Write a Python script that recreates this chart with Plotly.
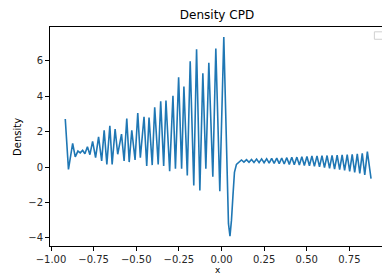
import plotly.graph_objects as go

# ---- data ----
x_vals = [
    -0.9164, -0.8977, -0.8731, -0.8579, -0.8421, -0.8287, -0.8146, -0.8012,
    -0.7865, -0.7719, -0.7561, -0.7386, -0.7211, -0.7029, -0.6883, -0.6725,
    -0.6550, -0.6415, -0.6240, -0.6088, -0.5865, -0.5713, -0.5556, -0.5415,
    -0.5263, -0.5070, -0.4912, -0.4760, -0.4544, -0.4386, -0.4251, -0.4064,
    -0.3918, -0.3713, -0.3567, -0.3392, -0.3257, -0.3041, -0.2848, -0.2702,
    -0.2515, -0.2339, -0.2205, -0.2006, -0.1836, -0.1626, -0.1462, -0.1269,
    -0.1094, -0.0918, -0.0743, -0.0509, -0.0333, -0.0099, 0.0135, 0.0409,
    0.0497, 0.0585, 0.0673, 0.0760, 0.0877, 0.1053,
    0.1170, 0.1316, 0.1468, 0.1614, 0.1760, 0.1906, 0.2058, 0.2205,
    0.2351, 0.2497, 0.2649, 0.2795, 0.2942, 0.3088, 0.3240, 0.3386,
    0.3532, 0.3678, 0.3830, 0.3977, 0.4123, 0.4269, 0.4421, 0.4567,
    0.4713, 0.4860, 0.5012, 0.5158, 0.5304, 0.5450, 0.5602, 0.5749,
    0.5895, 0.6041, 0.6193, 0.6339, 0.6485, 0.6632, 0.6784, 0.6930,
    0.7076, 0.7222, 0.7374, 0.7520, 0.7667, 0.7813, 0.7965, 0.8111,
    0.8257, 0.8404, 0.8556, 0.8772,
]
density = [
    2.71, -0.13, 1.33, 0.57, 0.90, 0.80, 0.95, 0.75,
    1.15, 0.70, 1.45, 0.53, 1.70, 0.34, 2.08, 0.15,
    2.33, 0.15, 2.14, 0.72, 1.86, 0.34, 2.74, 0.28,
    2.08, 0.40, 3.05, 0.53, 2.84, 0.06, 2.80, 0.11,
    3.37, 0.15, 3.71, 0.06, 3.75, -0.23, 4.03, -0.10,
    5.07, -0.10, 4.55, -0.47, 5.98, -1.04, 6.65, -1.33,
    5.30, -0.10, 5.89, -0.55, 6.69, -1.36, 7.35, -3.20,
    -3.90, -3.00, -1.60, -0.30, 0.15, 0.32,
    0.40, 0.28, 0.42, 0.27, 0.43, 0.26, 0.45, 0.25,
    0.46, 0.24, 0.47, 0.22, 0.49, 0.21, 0.50, 0.19,
    0.51, 0.17, 0.53, 0.15, 0.55, 0.13, 0.56, 0.11,
    0.58, 0.09, 0.60, 0.07, 0.62, 0.04, 0.63, 0.01,
    0.64, -0.03, 0.65, -0.07, 0.66, -0.11, 0.67, -0.15,
    0.68, -0.19, 0.70, -0.24, 0.72, -0.30, 0.74, -0.36,
    0.77, -0.44, 0.87, -0.66,
]

x_tick_vals = [-1.00, -0.75, -0.50, -0.25, 0.00, 0.25, 0.50, 0.75]
x_tick_text = ["\u22121.00", "\u22120.75", "\u22120.50", "\u22120.25",
               "0.00", "0.25", "0.50", "0.75"]
y_tick_vals = [-4, -2, 0, 2, 4, 6]
y_tick_text = ["\u22124", "\u22122", "0", "2", "4", "6"]

font_family = "DejaVu Sans"
text_color = "#262626"

fig = go.Figure()
fig.add_trace(go.Scatter(
    x=x_vals, y=density, mode="lines",
    line=dict(color="#1f77b4", width=1.6),
    showlegend=False,
))

fig.update_layout(
    width=382, height=274,
    margin=dict(l=50, r=0, t=27, b=28),
    paper_bgcolor="white", plot_bgcolor="white",
    font=dict(family=font_family, size=10, color=text_color),
    title=dict(text="Density CPD", x=217 / 382, xanchor="center",
               y=1 - 15 / 274, yanchor="middle",
               font=dict(size=12, color="#000000")),
    showlegend=False,
)

fig.update_xaxes(
    range=[-1.006, 0.9415], autorange=False,
    showgrid=False, zeroline=False,
    showline=True, linecolor="#000000", linewidth=1, mirror=True,
    ticks="outside", ticklen=4, tickwidth=1, tickcolor="#000000",
    tickvals=x_tick_vals, ticktext=x_tick_text,
    tickfont=dict(size=10, color=text_color),
    automargin=False,
)
fig.update_yaxes(
    range=[-4.46, 7.91], autorange=False,
    showgrid=False, zeroline=False,
    showline=True, linecolor="#000000", linewidth=1, mirror=False,
    ticks="outside", ticklen=4, tickwidth=1, tickcolor="#000000",
    tickvals=y_tick_vals, ticktext=y_tick_text,
    tickfont=dict(size=10, color=text_color),
    automargin=False,
)

# axis labels placed like the reference
fig.add_annotation(
    text="x", xref="paper", yref="paper", x=0.506, y=-0.106,
    xanchor="center", yanchor="middle", showarrow=False,
    height=9, valign="middle",
    font=dict(size=9, color="#000000"),
)
fig.add_annotation(
    text="Density", xref="paper", yref="paper", x=-0.098, y=0.5,
    xanchor="center", yanchor="middle", showarrow=False, textangle=-90,
    font=dict(size=10, color="#000000"),
)

# empty legend frame in the upper-right corner (as in the reference)
fig.add_shape(
    type="rect", xref="paper", yref="paper",
    x0=0.977, x1=1.01, y0=0.944, y1=0.978,
    line=dict(color="#d0d0d0", width=1), fillcolor="white",
)

fig.write_html(
    "out.html",
    config={"displayModeBar": False},
    post_script="document.body.style.margin='0px';document.body.style.overflow='hidden';",
)
